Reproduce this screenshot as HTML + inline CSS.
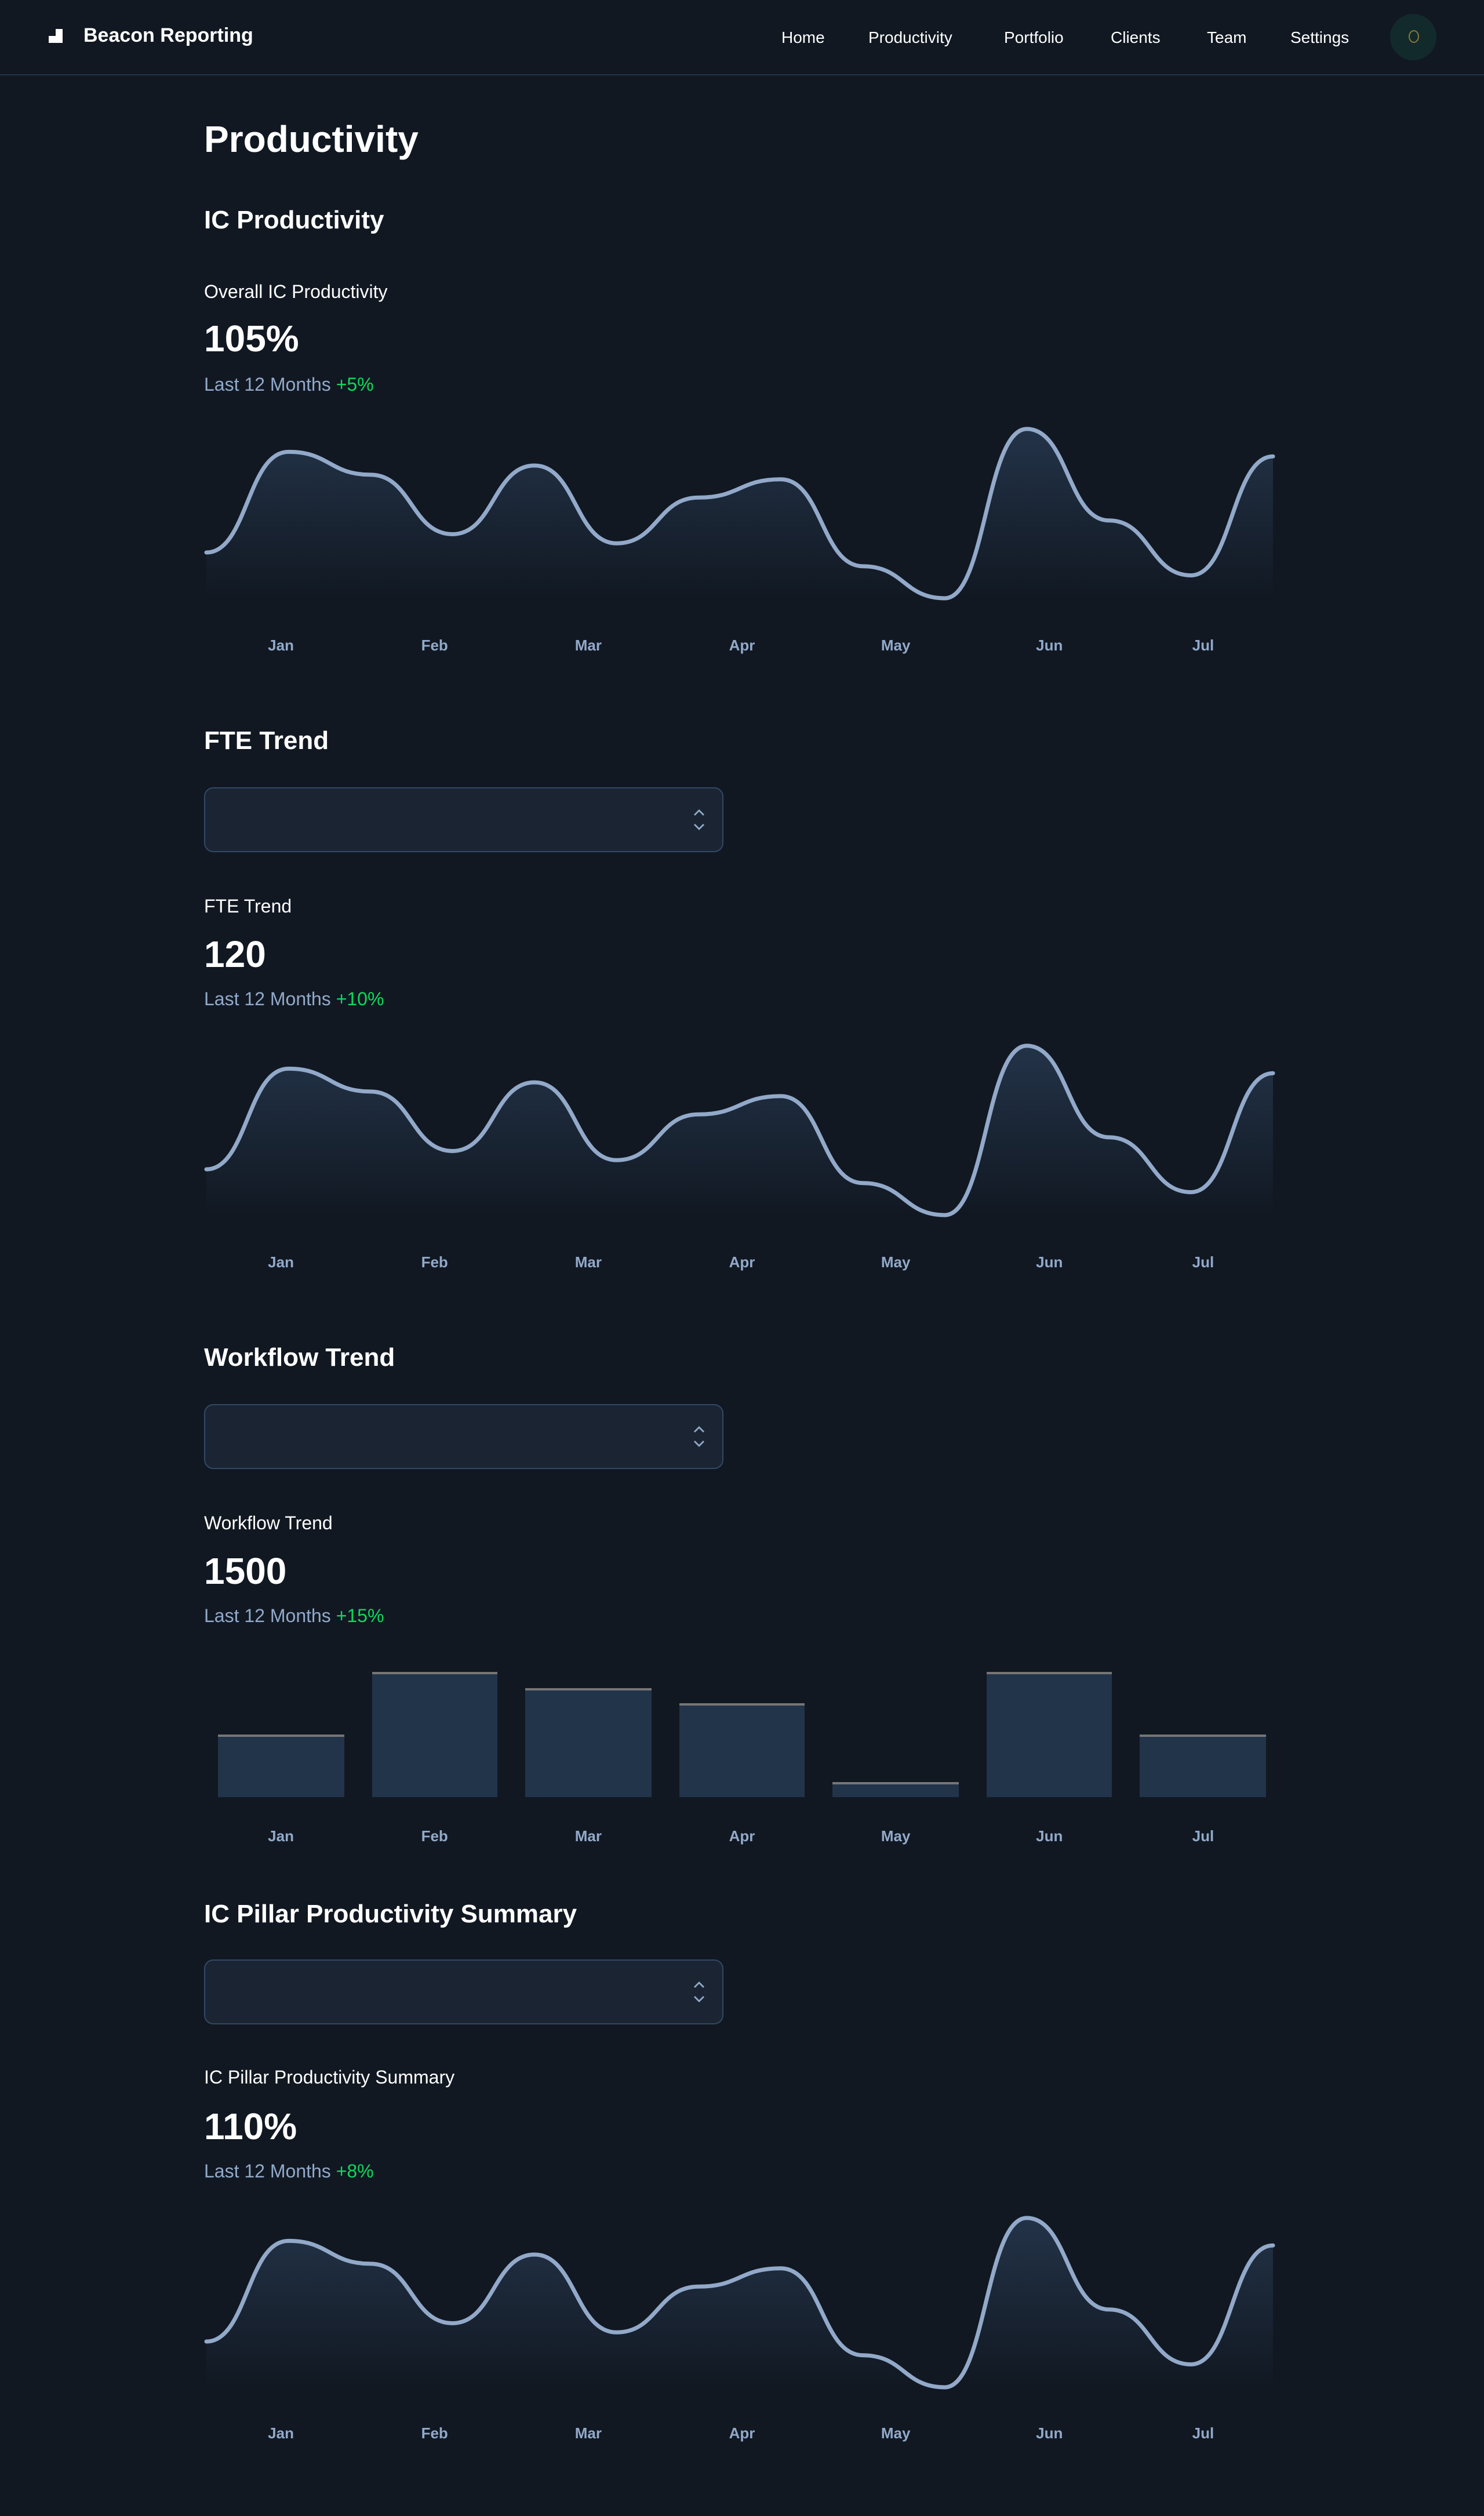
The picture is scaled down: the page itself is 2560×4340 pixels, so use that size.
<!DOCTYPE html>
<html><head><meta charset="utf-8">
<style>
html,body{margin:0;padding:0;background:#111822;}
body{width:2560px;height:4340px;overflow:hidden;font-family:"Liberation Sans",sans-serif;}
#wrap{position:absolute;left:0;top:0;width:1280px;height:2170px;transform:scale(2);transform-origin:0 0;background:#111822;color:#fff;}
.a{position:absolute;white-space:nowrap;}
.nav{font-size:14px;font-weight:500;line-height:14px;top:25px;color:#fff;}
.h1{font-size:32px;font-weight:700;line-height:32px;}
.h2{font-size:22px;font-weight:700;line-height:22px;}
.lbl{font-size:16px;font-weight:500;line-height:16px;}
.val{font-size:32px;font-weight:700;line-height:32px;}
.sub{font-size:16px;line-height:16px;color:#92a9c9;}
.sub b{color:#0bda5b;font-weight:400;}
.sel{position:absolute;left:176px;width:446px;height:54px;background:#1a2433;border:1px solid #324867;border-radius:8px;}
.month{position:absolute;font-size:13px;font-weight:700;color:#92a9c9;line-height:13px;transform:translateX(-50%);}
</style></head><body>
<div id="wrap">
  <div class="a" style="left:0;top:0;width:1280px;height:64px;border-bottom:1px solid #233348;"></div>
  <svg class="a" style="left:42px;top:25px" width="12" height="12" viewBox="0 0 12 12"><path d="M6 0H12V12H0V6H6Z" fill="#fff"/></svg>
  <div class="a" style="left:72px;top:22px;font-size:17px;font-weight:700;line-height:17px;">Beacon Reporting</div>
  <div class="a nav" style="left:674px">Home</div>
  <div class="a nav" style="left:749px">Productivity</div>
  <div class="a nav" style="left:866px">Portfolio</div>
  <div class="a nav" style="left:958px">Clients</div>
  <div class="a nav" style="left:1041px">Team</div>
  <div class="a nav" style="left:1113px">Settings</div>
  <div class="a" style="left:1199px;top:12px;width:40px;height:40px;border-radius:50%;background:#132a2c;"><div style="position:absolute;left:16px;top:14px;width:7px;height:9px;border:1px solid #8a7a3a;border-radius:50%;"></div></div>

  <div class="a h1" style="left:176px;top:104px">Productivity</div>

  <div class="a h2" style="left:176px;top:179px">IC Productivity</div>
  <div class="a lbl" style="left:176px;top:245px">Overall IC Productivity</div>
  <div class="a val" style="left:176px;top:276px">105%</div>
  <div class="a sub" style="left:176px;top:325px">Last 12 Months <b>+5%</b></div>

  <div class="a h2" style="left:176px;top:628px">FTE Trend</div>
  <div class="sel" style="top:679px"></div>
  <div class="a lbl" style="left:176px;top:775px">FTE Trend</div>
  <div class="a val" style="left:176px;top:807px">120</div>
  <div class="a sub" style="left:176px;top:855px">Last 12 Months <b>+10%</b></div>

  <div class="a h2" style="left:176px;top:1160px">Workflow Trend</div>
  <div class="sel" style="top:1211px"></div>
  <div class="a lbl" style="left:176px;top:1307px">Workflow Trend</div>
  <div class="a val" style="left:176px;top:1339px">1500</div>
  <div class="a sub" style="left:176px;top:1387px">Last 12 Months <b>+15%</b></div>

  <div class="a h2" style="left:176px;top:1640px">IC Pillar Productivity Summary</div>
  <div class="sel" style="top:1690px"></div>
  <div class="a lbl" style="left:176px;top:1785px">IC Pillar Productivity Summary</div>
  <div class="a val" style="left:176px;top:1818px">110%</div>
  <div class="a sub" style="left:176px;top:1866px">Last 12 Months <b>+8%</b></div>
</div>
<script>
const months = ["Jan","Feb","Mar","Apr","May","Jun","Jul"];
const icSeries = [41,129,109,57,117,49,89,105,29,1,149,69,21,125];
const fteSeries = [41,129,109,57,117,49,89,105,29,1,149,69,21,125];
const pillarSeries = [41,129,109,57,117,49,89,105,29,1,149,69,21,125];
const workflowBars = [40,80,70,60,10,80,40];

const wrap = document.getElementById('wrap');
const NS = 'http://www.w3.org/2000/svg';
const CX = 176, CW = 928;

function addMonths(prefix, labelTop){
  months.forEach((m,i)=>{
    const d = document.createElement('div');
    d.className = 'month';
    
    
    d.style.left = (CX + CW/7*(i+0.5)) + 'px';
    d.style.top = labelTop + 'px';
    d.textContent = m;
    wrap.appendChild(d);
  });
}

function lineChart(prefix, series, top, labelTop){
  const svg = document.createElementNS(NS,'svg');
  
  
  svg.setAttribute('viewBox','0 -3 478 150');
  svg.setAttribute('preserveAspectRatio','none');
  svg.setAttribute('width', CW - 8); svg.setAttribute('height', 148);
  svg.style.cssText = 'position:absolute;left:'+(CX+2)+'px;top:'+top+'px;overflow:visible';
  const step = 478/(series.length-1);
  const xs = i => i*step;
  const ys = v => 150 - v;
  let d = 'M0 ' + ys(series[0]);
  for(let i=1;i<series.length;i++){
    const x0 = xs(i-1), x1 = xs(i), mx = (x0+x1)/2;
    d += ' C'+mx+' '+ys(series[i-1])+' '+mx+' '+ys(series[i])+' '+x1+' '+ys(series[i]);
  }
  const gid = prefix+'-grad';
  svg.innerHTML = '<defs><linearGradient id="'+gid+'" x1="0" y1="0" x2="0" y2="1"><stop offset="0" stop-color="#233348"/><stop offset="1" stop-color="#233348" stop-opacity="0"/></linearGradient></defs>';
  const area = document.createElementNS(NS,'path');
  
  
  area.setAttribute('d', d + ' V147 H0 Z');
  area.setAttribute('fill','url(#'+gid+')');
  svg.appendChild(area);
  const line = document.createElementNS(NS,'path');
  
  
  line.setAttribute('d', d);
  line.setAttribute('fill','none');
  line.setAttribute('stroke','#92a9c9');
  line.setAttribute('stroke-width','3.5');
  line.setAttribute('vector-effect','non-scaling-stroke');
  line.setAttribute('stroke-linecap','round');
  svg.appendChild(line);
  wrap.appendChild(svg);
  addMonths(prefix, labelTop);
}

lineChart('ic', icSeries, 366, 550);
lineChart('fte', fteSeries, 898, 1082);
lineChart('pillar', pillarSeries, 1909, 2092);

// bar chart
const barBottom = 1550, barMaxH = 135, pad = 12, gap = 24;
const bw = (CW - 2*pad - gap*(workflowBars.length-1))/workflowBars.length;
workflowBars.forEach((v,i)=>{
  const b = document.createElement('div');
  
  
  const h = v/100*barMaxH;
  b.style.cssText = 'position:absolute;box-sizing:border-box;background:#22344a;border-top:2px solid #767676;left:'+(CX+pad+i*(bw+gap))+'px;width:'+bw+'px;top:'+(barBottom-h)+'px;height:'+h+'px';
  wrap.appendChild(b);
});
addMonths('workflow', 1577);

// select chevrons
[679,1211,1690].forEach((t,i)=>{
  const s = document.createElementNS(NS,'svg');
  
  
  s.setAttribute('width','12'); s.setAttribute('height','20');
  s.style.cssText='position:absolute;left:597px;top:'+(t+18)+'px';
  s.innerHTML='<path d="M2 6L6 2L10 6M2 14L6 18L10 14" fill="none" stroke="#92a9c9" stroke-width="1.4"/>';
  wrap.appendChild(s);
});
</script>
</body></html>
